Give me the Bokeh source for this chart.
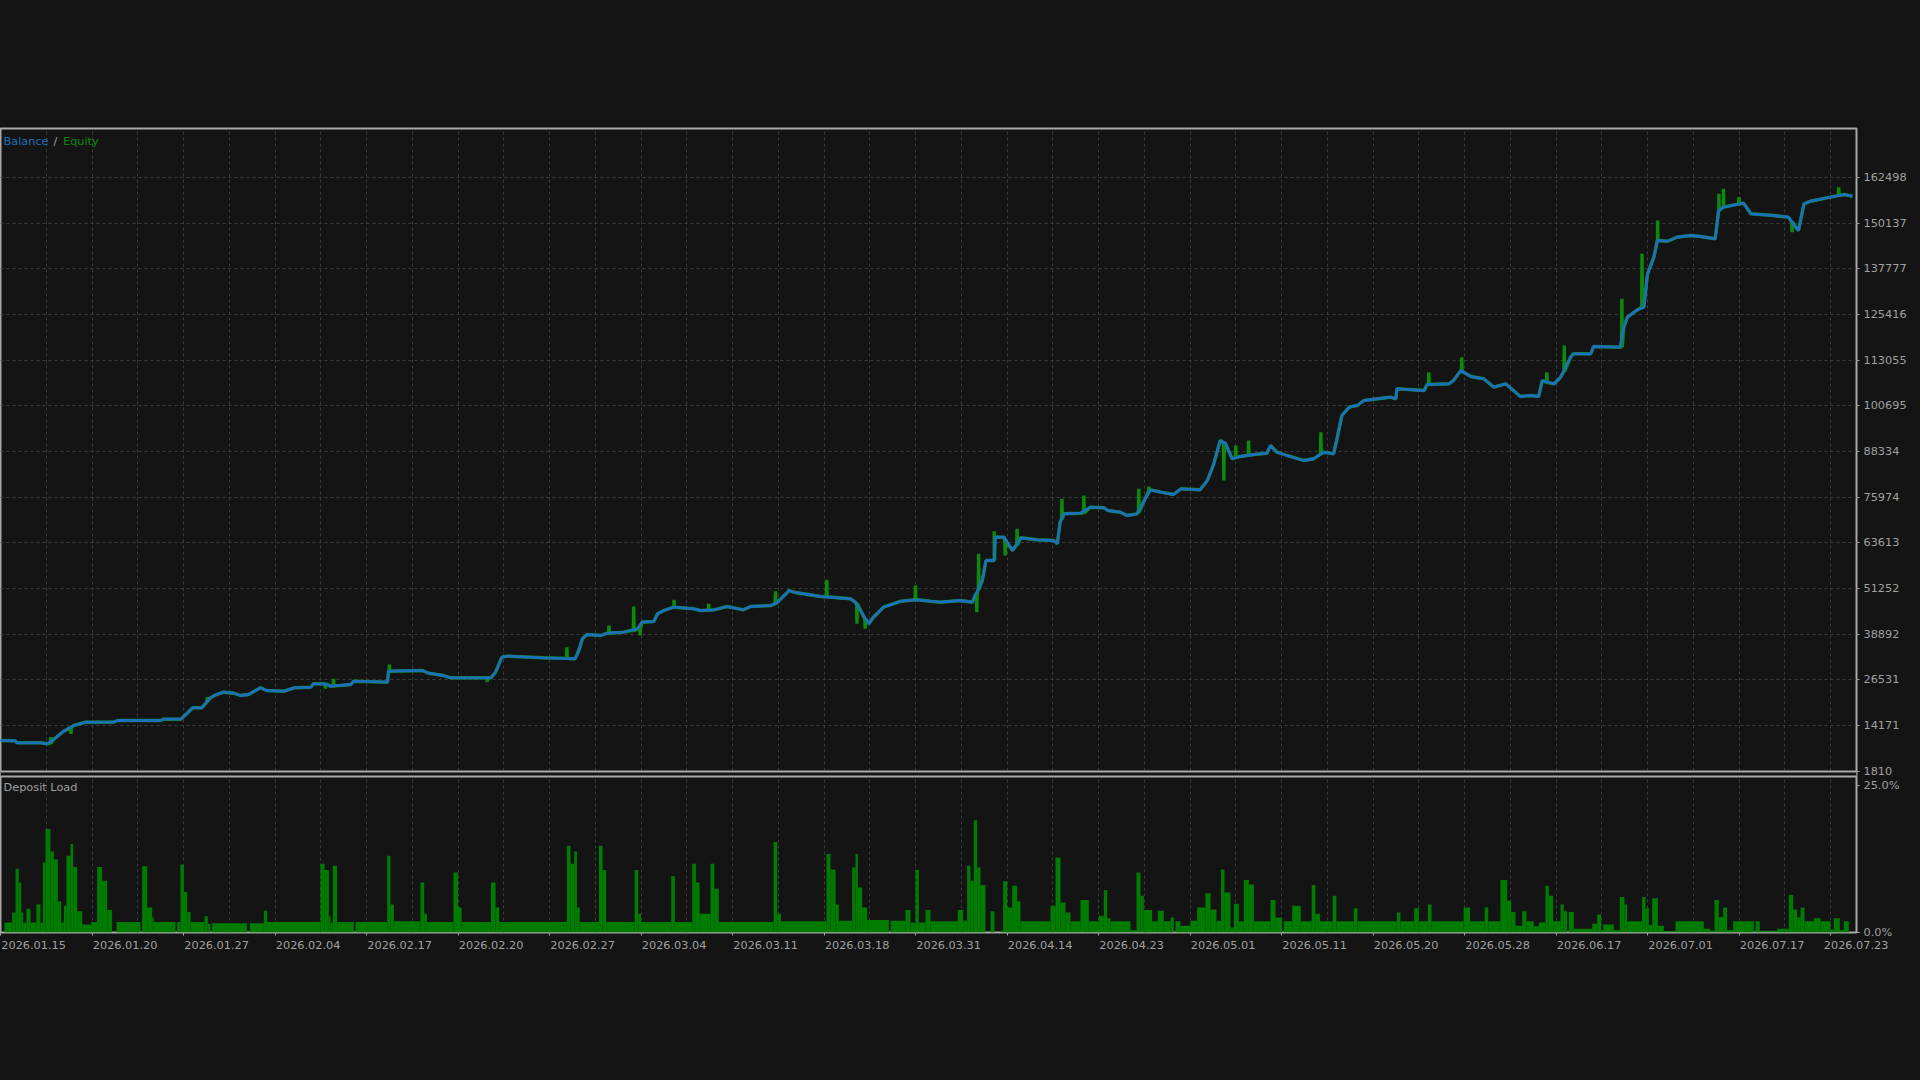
from bokeh.plotting import figure
from bokeh.models import Range1d, FixedTicker, Label, Span
from bokeh.embed import file_html
from bokeh.resources import INLINE

# ---------------- data ----------------
date_labels = ["2026.01.15", "2026.01.20", "2026.01.27", "2026.02.04", "2026.02.17",
               "2026.02.20", "2026.02.27", "2026.03.04", "2026.03.11", "2026.03.18",
               "2026.03.31", "2026.04.14", "2026.04.23", "2026.05.01", "2026.05.11",
               "2026.05.20", "2026.05.28", "2026.06.17", "2026.07.01", "2026.07.17",
               "2026.07.23"]
date_pos = list(range(21))

y_ticks = [1810, 14171, 26531, 38892, 51252, 63613, 75974, 88334, 100695,
           113055, 125416, 137777, 150137, 162498]
load_labels = ["25.0%", "0.0%"]

bal_x = [0, 0.16, 0.18, 0.44, 0.51, 0.58, 0.69, 0.80, 0.93, 1.23,
         1.28, 1.75, 1.78, 1.97, 2.04, 2.10, 2.20, 2.28, 2.35, 2.44,
         2.55, 2.62, 2.71, 2.84, 2.91, 3.10, 3.21, 3.39, 3.42, 3.53,
         3.61, 3.83, 3.86, 4.23, 4.24, 4.61, 4.68, 4.84, 4.92, 5.36,
         5.41, 5.48, 5.54, 5.94, 6.28, 6.32, 6.36, 6.41, 6.56, 6.63,
         6.81, 6.89, 6.96, 7.01, 7.14, 7.18, 7.25, 7.36, 7.58, 7.65,
         7.80, 7.94, 8.12, 8.20, 8.42, 8.49, 8.62, 8.67, 8.96, 9.29,
         9.34, 9.49, 9.54, 9.65, 9.84, 10.02, 10.16, 10.27, 10.49, 10.62,
         10.66, 10.73, 10.77, 10.86, 10.87, 10.97, 11.06, 11.15, 11.33, 11.51,
         11.55, 11.58, 11.62, 11.80, 11.91, 12.06, 12.10, 12.24, 12.31, 12.42,
         12.50, 12.57, 12.68, 12.82, 12.90, 13.11, 13.19, 13.26, 13.33, 13.39,
         13.46, 13.55, 13.70, 13.84, 13.88, 13.95, 14.06, 14.24, 14.35, 14.46,
         14.57, 14.61, 14.66, 14.74, 14.83, 14.90, 15.19, 15.25, 15.26, 15.56,
         15.59, 15.83, 15.88, 15.96, 16.07, 16.21, 16.32, 16.45, 16.61, 16.72,
         16.81, 16.85, 16.98, 17.05, 17.16, 17.19, 17.38, 17.41, 17.70, 17.74,
         17.78, 17.89, 17.96, 18.00, 18.07, 18.11, 18.22, 18.32, 18.47, 18.58,
         18.74, 18.78, 18.83, 19.05, 19.13, 19.38, 19.54, 19.62, 19.65, 19.71,
         19.78, 20.00, 20.15, 20.24]
bal_v = [10070, 9990, 9450, 9450, 9180, 10340, 12590, 14130, 15025, 15025,
         15485, 15485, 15840, 15840, 17460, 18920, 18920, 21360, 22440, 23150,
         22880, 22255, 22525, 24340, 23610, 23420, 24340, 24500, 25425, 25425,
         24775, 25235, 26130, 25860, 28835, 29025, 28295, 27670, 27050, 27050,
         28565, 32630, 32900, 32465, 32195, 34440, 37610, 38775, 38500, 39125,
         39400, 39860, 40320, 42105, 42295, 44380, 45275, 46170, 45735, 45275,
         45465, 46355, 45465, 46355, 46625, 47520, 50690, 50230, 49065, 48440,
         47520, 41670, 43460, 46170, 47790, 48170, 47790, 47520, 47980, 47520,
         49795, 53400, 58815, 58815, 65125, 65125, 61520, 64960, 64420, 64230,
         63335, 69185, 71460, 71625, 73250, 73085, 72355, 71895, 71000, 71460,
         75060, 77960, 77310, 76685, 78230, 77960, 80480, 85000, 91310, 90415,
         86355, 86975, 87520, 87870, 89955, 88140, 87250, 85895, 86355, 88140,
         87710, 92200, 98080, 100330, 100790, 102145, 103035, 102600, 105310, 104850,
         106470, 106665, 107560, 110265, 108640, 108020, 105745, 106665, 103225, 103500,
         103225, 107560, 106665, 108450, 113870, 114785, 114785, 116765, 116575, 121990,
         124700, 126700, 127410, 136450, 140945, 145470, 145280, 146365, 146825, 146555,
         145930, 153595, 154485, 155570, 152700, 152235, 151780, 149070, 148175, 155400,
         156110, 157195, 157920, 157460]

# equity excursions away from balance (position, level before, extreme level)
eq_spike_x = [0.55, 0.77, 2.26, 3.55, 3.64, 4.25, 5.32, 6.19, 6.65, 6.92,
              6.99, 7.36, 7.74, 8.47, 9.03, 9.36, 9.45, 10.00, 10.67, 10.69,
              10.86, 10.98, 11.11, 11.60, 11.84, 12.44, 12.55, 13.37, 13.50, 13.64,
              14.43, 15.61, 15.97, 16.90, 17.09, 17.72, 17.94, 18.11, 18.78, 18.83,
              19.00, 19.58, 20.09]
eq_spike_base = [9300, 13600, 20500, 25400, 24800, 28835, 27050, 32300, 39125, 39800,
                 40300, 46170, 45300, 47100, 49000, 47200, 43000, 48170, 49800, 51000,
                 58815, 64000, 63000, 70000, 71700, 71800, 77500, 90800, 86700, 87300,
                 87600, 106470, 110000, 107000, 110000, 116575, 127300, 145470, 153600, 154485,
                 155400, 150500, 157700]
eq_spike_val = [10960, 11885, 21795, 24150, 26780, 30650, 25860, 35335, 41210, 46360,
                38500, 48170, 47090, 50500, 53590, 41670, 40320, 52040, 44810, 60630,
                66750, 60170, 67400, 75520, 76420, 78230, 78850, 80480, 89955, 91310,
                93560, 109805, 113870, 109805, 117035, 129680, 141870, 150885, 158115, 159470,
                157195, 147720, 159900]

# deposit load steps: start position of each step and its level in %
dl_x = [0.044, 0.128, 0.164, 0.200, 0.226, 0.248, 0.284, 0.328, 0.393, 0.437,
        0.463, 0.492, 0.546, 0.583, 0.627, 0.663, 0.692, 0.721, 0.765, 0.794,
        0.838, 0.893, 0.991, 1.056, 1.111, 1.166, 1.220, 1.268, 1.530, 1.548,
        1.603, 1.658, 1.676, 1.913, 1.931, 1.967, 2.004, 2.040, 2.077, 2.230,
        2.266, 2.295, 2.313, 2.696, 2.725, 2.878, 2.914, 3.497, 3.541, 3.588,
        3.607, 3.632, 3.679, 3.862, 3.880, 4.226, 4.262, 4.299,
        4.59, 4.63, 4.66, 4.95, 5.00, 5.04, 5.36, 5.41, 5.45, 6.19,
        6.23, 6.27, 6.30, 6.33, 6.54, 6.58, 6.62, 6.93, 6.97, 7.00,
        7.33, 7.37, 7.56, 7.60, 7.64, 7.76, 7.80, 7.85, 8.45, 8.49, 8.53,
        9.027, 9.071, 9.126, 9.162, 9.308, 9.344, 9.370, 9.417, 9.472, 9.709,
        9.727, 9.891, 9.945, 10.000, 10.036, 10.109, 10.164, 10.462, 10.521, 10.564,
        10.601, 10.637, 10.674, 10.710, 10.765, 10.820, 10.863, 10.929, 10.958, 11.002,
        11.056, 11.111, 11.147, 11.475, 11.530, 11.585, 11.639, 11.694, 11.803, 11.894,
        12.004, 12.058, 12.095, 12.131, 12.350, 12.415, 12.459, 12.495, 12.586, 12.648,
        12.714, 12.787, 12.823, 12.841, 12.896, 13.005, 13.078, 13.169, 13.224, 13.289,
        13.340, 13.377, 13.443, 13.479, 13.534, 13.588, 13.643, 13.698, 13.880, 13.934,
        14.007, 14.025, 14.117,
        14.21, 14.33, 14.37, 14.42, 14.56, 14.60, 14.79, 14.83, 15.26, 15.30,
        15.45, 15.50, 15.60, 15.64, 15.99, 16.06, 16.22, 16.26,
        16.393, 16.466, 16.510, 16.557, 16.630, 16.677, 16.757, 16.812, 16.885, 16.921,
        16.969, 17.049, 17.085, 17.122, 17.140, 17.194, 17.395, 17.450, 17.493, 17.515,
        17.632, 17.697, 17.748, 17.777, 17.941, 17.978, 18.014, 18.051, 18.113, 18.178,
        18.306, 18.615, 18.688, 18.732, 18.779, 18.827, 18.870, 18.936, 19.162, 19.180,
        19.227, 19.417, 19.544, 19.592, 19.636, 19.672, 19.716, 19.818, 19.891, 19.999,
        20.036, 20.101, 20.146, 20.200]
dl_v = [1.6, 3.2, 10.2, 8.0, 3.2, 1.6, 3.8, 1.6, 4.5, 1.6,
        11.2, 16.6, 13.0, 11.7, 5.0, 1.6, 4.3, 12.3, 14.2, 10.5,
        3.4, 1.3, 1.7, 10.5, 8.3, 3.6, 0, 1.7, 0, 10.6,
        4.0, 2.4, 1.7, 0, 1.7, 10.9, 6.5, 3.3, 1.7, 2.6,
        1.4, 0, 1.5, 0, 1.5, 3.5, 1.7, 11.0, 10.0, 2.6,
        1.6, 10.7, 1.7, 0, 1.7, 12.3, 4.5, 1.8,
        8.0, 3.0, 1.7, 9.6, 4.0, 1.7, 8.0, 4.0, 1.7, 13.9,
        11.0, 13.0, 4.0, 1.7, 13.9, 10.0, 1.7, 10.0, 3.0, 1.7,
        9.0, 1.7, 11.0, 8.0, 3.0, 11.0, 7.0, 1.7, 14.5, 3.0, 1.8,
        12.6, 10.1, 4.5, 1.9, 10.4, 12.6, 7.2, 4.0, 2.0, 0,
        1.9, 3.6, 1.6, 10.0, 1.6, 3.6, 1.8, 3.6, 1.9, 10.7,
        8.3, 18.0, 10.4, 7.6, 0, 3.4, 0, 0.3, 8.2, 4.0,
        7.5, 5.0, 1.8, 4.3, 12.0, 4.8, 3.2, 1.8, 5.2, 1.8,
        2.7, 6.8, 2.3, 1.8, 0.4, 9.6, 5.9, 3.6, 1.8, 3.5,
        1.8, 2.4, 0, 1.8, 1.1, 1.9, 4.0, 6.3, 3.7, 1.9,
        10.1, 6.4, 0.8, 4.6, 1.8, 8.4, 7.7, 1.8, 5.2, 2.4,
        0, 1.8, 4.3,
        1.8, 7.6, 3.0, 1.8, 5.9, 1.8, 3.9, 1.8, 3.2, 1.8,
        3.9, 1.8, 4.5, 1.8, 4.0, 1.8, 4.0, 1.8,
        8.4, 5.1, 3.3, 1.1, 3.4, 1.8, 1.0, 1.6, 7.5, 5.9,
        1.8, 4.5, 3.4, 0, 3.3, 0.6, 1.4, 2.9, 0.4, 1.3,
        0.4, 5.7, 4.5, 1.8, 5.7, 3.9, 1.2, 5.5, 1.1, 0.2,
        1.8, 0.6, 0.3, 5.2, 2.5, 4.0, 0.4, 1.8, 0, 1.8,
        0.3, 0.6, 6.0, 3.7, 2.4, 4.0, 1.8, 2.3, 1.8, 0.5,
        2.3, 0.4, 1.8, 0]

# ---------------- style / layout ----------------
BG = "#141414"
BORDER = "#a8a8a8"
GRID = "#3c3c3c"
TXT = "#a0a0a0"
BLUE = "#1c70bc"
GREEN = "#0b8a0b"
BAR = "#007d00"
FONT = "DejaVu Sans"
FS = "11.3px"

# frame geometry in screen pixels (one frame holds both panes)
PX_TOP, PX_SPLIT1, PX_SPLIT2, PX_BOT = 128, 771, 776, 932
PANE_LO, PANE_HI = 1675, 175800          # balance pane value range
PER_PX = (PANE_HI - PANE_LO) / (PX_SPLIT1 - PX_TOP)
Y_START = PANE_LO - (PX_BOT - PX_SPLIT1) * PER_PX
LOAD_MAX = 25.0
LOAD_HI = LOAD_MAX * (PX_BOT - PX_TOP) / (PX_BOT - PX_SPLIT2)

def px_to_val(px):
    return PANE_LO - (px - PX_SPLIT1) * PER_PX

X_END = 20.284
grid_x = [i * 0.5 for i in range(41)]
# date labels start at their tick: label anchors sit half a label width to the right
LBL_SHIFT = 0.362
label_pos = [min(round(p + LBL_SHIFT, 3), 20.28) for p in date_pos]

# equity path: balance with the excursions inserted
eq_pts = list(zip(bal_x, bal_v))
for sx, sb, sv in zip(eq_spike_x, eq_spike_base, eq_spike_val):
    eq_pts += [(sx - 0.004, sb), (sx, sv), (sx + 0.004, sb)]
eq_pts.sort(key=lambda t: t[0])
eq_x = [t[0] for t in eq_pts]
eq_v = [t[1] for t in eq_pts]

p = figure(width=1912, height=972, x_range=Range1d(0, X_END), y_range=Range1d(Y_START, PANE_HI),
           x_axis_location="below", y_axis_location="right",
           output_backend="svg", toolbar_location=None,
           min_border_left=0, min_border_right=56, min_border_top=PX_TOP, min_border_bottom=40,
           background_fill_color=BG, border_fill_color=BG,
           outline_line_color=BORDER, outline_line_width=2)
p.extra_y_ranges = {"load": Range1d(0, LOAD_HI)}

p.xgrid.ticker = FixedTicker(ticks=grid_x)
p.ygrid.ticker = FixedTicker(ticks=y_ticks)
for g in (p.xgrid, p.ygrid):
    g.grid_line_color = GRID
    g.grid_line_dash = "3 3"
    g.grid_line_width = 1

# gap between the two panes
p.quad(left=[0], right=[X_END], bottom=[px_to_val(PX_SPLIT2)], top=[px_to_val(PX_SPLIT1)],
       fill_color=BG, line_color=None)
for px in (PX_SPLIT1, PX_SPLIT2):
    p.add_layout(Span(location=px_to_val(px), dimension="width",
                      line_color=BORDER, line_width=2))

# right axis: balance ticks + deposit-load ticks of the lower pane
load_tick_pos = [round(px_to_val(PX_SPLIT2 + 9)), round(px_to_val(PX_BOT - 0.5))]
ya = p.yaxis[0]
ya.ticker = FixedTicker(ticks=y_ticks + load_tick_pos)
overrides = {t: str(t) for t in y_ticks}
overrides.update({t: s for t, s in zip(load_tick_pos, load_labels)})
ya.major_label_overrides = overrides
ya.axis_line_color = None
ya.major_tick_line_color = TXT
ya.major_tick_out = 3
ya.major_tick_in = 0
ya.minor_tick_line_color = None
ya.major_label_standoff = 4
ya.major_label_text_color = TXT
ya.major_label_text_font = FONT
ya.major_label_text_font_size = FS

xa = p.xaxis[0]
xa.ticker = FixedTicker(ticks=label_pos, minor_ticks=date_pos)
xa.major_label_overrides = {q: s for q, s in zip(label_pos, date_labels)}
xa.axis_line_color = None
xa.major_tick_line_color = None
xa.minor_tick_line_color = TXT
xa.minor_tick_out = 3
xa.minor_tick_in = 0
xa.major_label_standoff = 2
xa.major_label_text_color = TXT
xa.major_label_text_font = FONT
xa.major_label_text_font_size = FS

# deposit load bars (lower pane)
p.quad(left=dl_x[:-1], right=dl_x[1:], bottom=0, top=dl_v[:-1],
       fill_color=BAR, line_color=None, y_range_name="load")

# balance / equity (upper pane)
p.line(eq_x, eq_v, line_color=GREEN, line_width=3.4)
p.line(bal_x, bal_v, line_color=BLUE, line_width=2.8)

ly = px_to_val(141)
p.add_layout(Label(x=0.033, y=ly, text="Balance", text_color=BLUE, text_font=FONT,
                   text_font_size=FS, text_baseline="middle"))
p.add_layout(Label(x=0.578, y=ly, text="/", text_color=TXT, text_font=FONT,
                   text_font_size=FS, text_baseline="middle"))
p.add_layout(Label(x=0.683, y=ly, text="Equity", text_color=GREEN, text_font=FONT,
                   text_font_size=FS, text_baseline="middle"))
p.add_layout(Label(x=0.033, y=px_to_val(787), text="Deposit Load", text_color=TXT,
                   text_font=FONT, text_font_size=FS, text_baseline="middle"))

html = file_html(p, INLINE)
html = html.replace("<body>", '<body style="background:#141414">')
open("out.html", "w").write(html)
